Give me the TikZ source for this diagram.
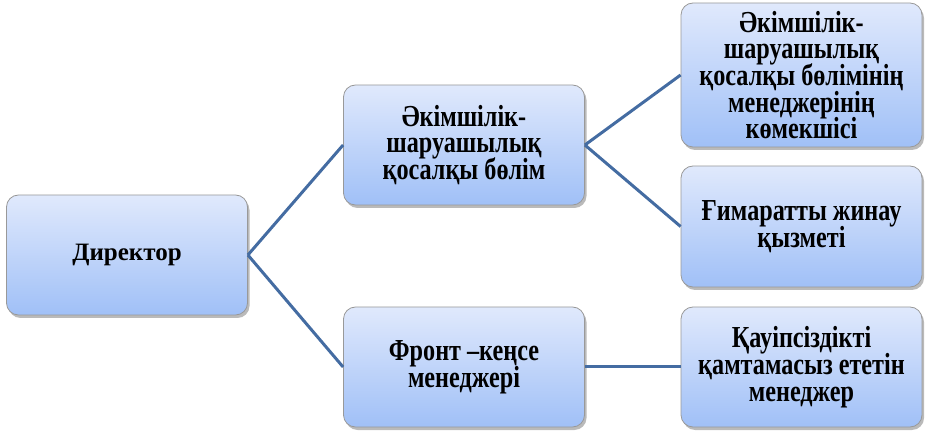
\documentclass[tikz,border=0pt]{standalone}
\usepackage{fontspec}
\usepackage{graphicx}
\setmainfont{Liberation Serif}[Ligatures=TeX]
\usetikzlibrary{shadows}
\definecolor{linkblue}{RGB}{68,108,162}
\definecolor{boxtop}{RGB}{224,233,252}
\definecolor{boxbottom}{RGB}{160,192,247}
% tall, tightly spaced box text
\newcommand{\tallText}[1]{\scalebox{1}[1.26]{\parbox{236pt}{\centering
  \fontsize{24.2}{21.2}\selectfont\lineskiplimit=-20pt\relax #1}}}

\begin{document}
\begin{tikzpicture}[
    x=1pt, y=1pt,
    every node/.style={font=\bfseries\fontsize{25}{26.7}\selectfont},
    orgbox/.style={draw=gray!80, line width=0.8pt, rounded corners=12pt,
      top color=boxtop, bottom color=boxbottom, align=center,
      minimum width=241pt, minimum height=120pt, inner sep=1pt,
      drop shadow={shadow xshift=2pt, shadow yshift=-3pt, opacity=0.45, fill=black!60}},
    link/.style={linkblue, line width=3pt}
  ]
    \useasboundingbox (0,0) rectangle (930,437);

    % Boxes
    \node[orgbox] (dir) at (127,182) {Директор};
    \node[orgbox] (adm) at (464,292) {\tallText{Әкімшілік-\\шаруашылық\\қосалқы бөлім}};
    \node[orgbox] (front) at (464,70) {\tallText{Фронт --кеңсе\\менеджері}};
    \node[orgbox, minimum height=144pt] (asst) at (801.5,362)
      {\tallText{Әкімшілік-\\шаруашылық\\қосалқы бөлімінің\\менеджерінің\\көмекшісі}};
    \node[orgbox, minimum height=121pt] (clean) at (801.5,210.5) {\tallText{Ғимаратты жинау\\қызметі}};
    \node[orgbox] (sec) at (801.5,70) {\tallText{Қауіпсіздікті\\қамтамасыз ететін\\менеджер}};

    % Connectors
    \foreach \a/\b in {dir/adm, dir/front, adm/asst, adm/clean, front/sec} {
      \draw[link] (\a.east) -- (\b.west);
    }

  \end{tikzpicture}
\end{document}
